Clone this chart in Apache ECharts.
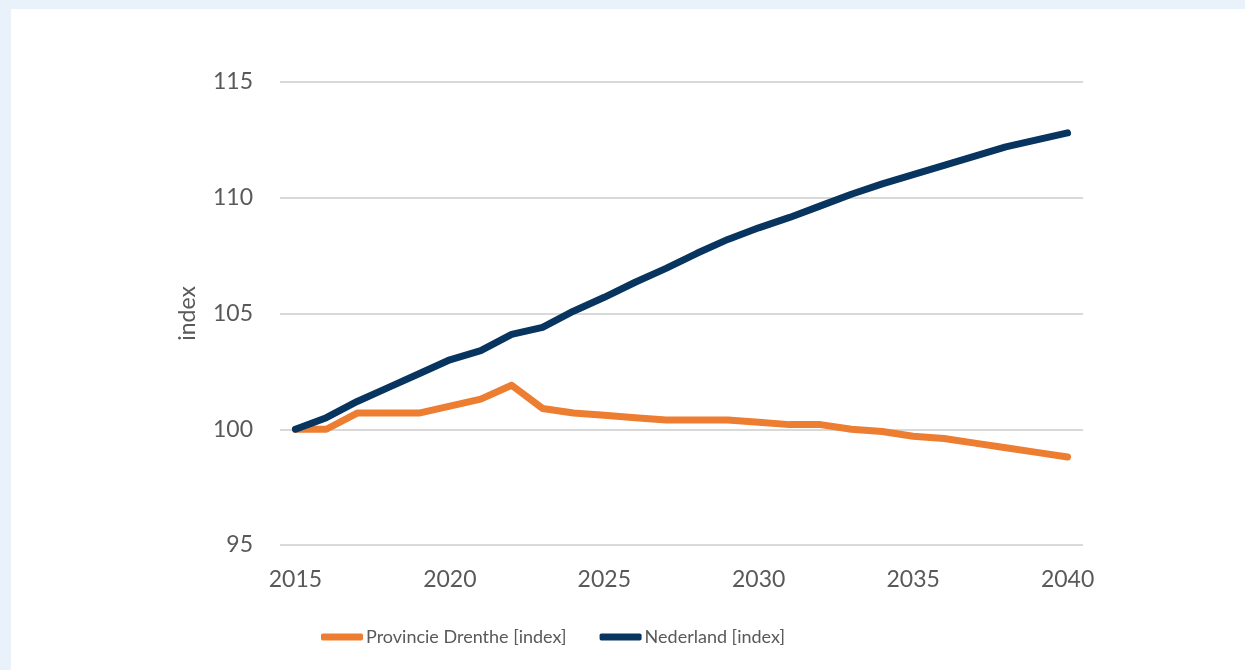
<!DOCTYPE html>
<html>
<head>
<meta charset="utf-8">
<script src="https://cdn.jsdelivr.net/npm/echarts@6/dist/echarts.min.js"></script>
<style>
  html, body { margin: 0; padding: 0; width: 1245px; height: 670px; background: #E9F1FA; overflow: hidden; }
  #chart { position: absolute; left: 11px; top: 9px; width: 1234px; height: 661px; background: #FFFFFF; }
</style>
</head>
<body>
<div id="chart"></div>
<script>
const years = ['2015','2016','2017','2018','2019','2020','2021','2022','2023','2024','2025','2026','2027',
  '2028','2029','2030','2031','2032','2033','2034','2035','2036','2037','2038','2039','2040'];
const drenthe = [100.0, 100.0, 100.7, 100.7, 100.7, 101.0, 101.3, 101.9, 100.9, 100.7, 100.6, 100.5, 100.4,
  100.4, 100.4, 100.3, 100.2, 100.2, 100.0, 99.9, 99.7, 99.6, 99.4, 99.2, 99.0, 98.8];
const nederland = [100.0, 100.5, 101.2, 101.8, 102.4, 103.0, 103.4, 104.1, 104.4, 105.1, 105.7, 106.35, 106.95,
  107.6, 108.2, 108.7, 109.15, 109.65, 110.15, 110.6, 111.0, 111.4, 111.8, 112.2, 112.5, 112.8];
const seriesNames = ['Provincie Drenthe [index]', 'Nederland [index]'];
const yAxisName = 'index';

const FONT = 'Lato';
const TXT = '#595959';
const FS = 23;
const chart = echarts.init(document.getElementById('chart'));
chart.setOption({
  animation: false,
  textStyle: { fontFamily: FONT },
  grid: { left: 269, right: 162, top: 73, bottom: 125, containLabel: false },
  legend: {
    bottom: 24,
    left: 310,
    padding: 0,
    icon: 'roundRect',
    itemWidth: 42,
    itemHeight: 7,
    itemGap: 33,
    textStyle: { color: TXT, fontSize: 18, fontFamily: FONT, padding: [0, 0, 0, -2] },
    data: seriesNames
  },
  xAxis: {
    type: 'category',
    data: years,
    boundaryGap: true,
    axisLine: { show: false },
    axisTick: { show: false },
    axisLabel: { interval: 4, color: TXT, fontSize: FS, margin: 23, fontFamily: FONT }
  },
  yAxis: {
    type: 'value',
    min: 95, max: 115, interval: 5,
    name: yAxisName,
    nameLocation: 'middle',
    nameGap: 81,
    nameRotate: 90,
    nameTextStyle: { color: TXT, fontSize: FS, fontFamily: FONT },
    axisLine: { show: false },
    axisTick: { show: false },
    axisLabel: { color: TXT, fontSize: FS, margin: 27, fontFamily: FONT },
    splitLine: { lineStyle: { color: '#D9D9D9', width: 2 } }
  },
  series: [
    { name: seriesNames[0], type: 'line', data: drenthe, showSymbol: false, symbol: 'none',
      lineStyle: { color: '#ED7D31', width: 7, cap: 'round', join: 'round' }, itemStyle: { color: '#ED7D31' } },
    { name: seriesNames[1], type: 'line', data: nederland, showSymbol: false, symbol: 'none',
      lineStyle: { color: '#08355F', width: 7, cap: 'round', join: 'round' }, itemStyle: { color: '#08355F' } }
  ]
});
</script>
</body>
</html>
